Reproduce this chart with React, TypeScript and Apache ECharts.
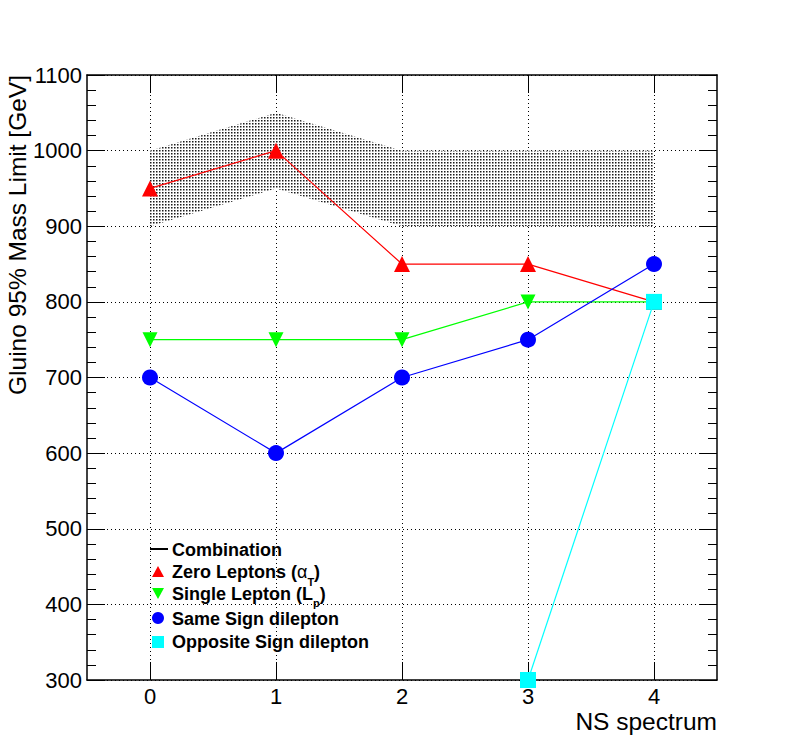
import React, { useEffect, useRef } from "react";
import * as echarts from "echarts";

const nsPoints = [0, 1, 2, 3, 4];
const xTickLabels = ["0", "1", "2", "3", "4"];
const yTicks = [300, 400, 500, 600, 700, 800, 900, 1000, 1100];
const combinationLow = [900, 950, 900, 900, 900];
const combinationHigh = [1000, 1050, 1000, 1000, 1000];
const zeroLeptons = [950, 1000, 850, 850, 800];
const singleLepton = [750, 750, 750, 800, 800];
const sameSign = [700, 600, 700, 750, 850];
const oppositeSign: (number | null)[] = [null, null, null, 300, 800];

const FONT = "'Liberation Sans', Arial, Helvetica, sans-serif";

function makeDots(): HTMLCanvasElement {
  const c = document.createElement("canvas");
  c.width = 3;
  c.height = 3;
  const ctx = c.getContext("2d")!;
  ctx.fillStyle = "#fff";
  ctx.fillRect(0, 0, 3, 3);
  ctx.fillStyle = "#1a1a1a";
  ctx.fillRect(0, 0, 1, 1);
  ctx.fillStyle = "#8a8a8a";
  ctx.fillRect(1, 0, 1, 1);
  ctx.fillRect(0, 1, 1, 1);
  ctx.fillStyle = "#c4c4c4";
  ctx.fillRect(1, 1, 1, 1);
  return c;
}

const pairs = (vals: (number | null)[]) =>
  nsPoints.map((x, i) => (vals[i] == null ? [x, null] : [x, vals[i]]));

export default function App() {
  const ref = useRef<HTMLDivElement>(null);
  useEffect(() => {
    if (!ref.current) return;
    const chart = echarts.init(ref.current, undefined, { renderer: "svg" });
    const dots = makeDots();
    const pattern = { image: dots, repeat: "repeat", imageWidth: 3, imageHeight: 3 };
    const axisLine = { show: true, onZero: false, lineStyle: { color: "#000", width: 1.5 } };
    const xBase = {
      type: "value" as const,
      min: -0.5,
      max: 4.5,
      axisLine,
      axisTick: { show: true, inside: true, length: 18, customValues: nsPoints, lineStyle: { color: "#000", width: 1 } },
    };
    const yBase = {
      type: "value" as const,
      min: yTicks[0],
      max: yTicks[yTicks.length - 1],
      interval: 100,
      axisLine,
      axisTick: { show: true, inside: true, length: 18, lineStyle: { color: "#000", width: 1 } },
      minorTick: { show: true, splitNumber: 5, length: 9, lineStyle: { color: "#000", width: 1 } },
    };
    const bold = { fontFamily: FONT, fontSize: 18, fontWeight: "bold" as const, fill: "#000" };
    chart.setOption({
      animation: false,
      backgroundColor: "#fff",
      grid: { left: 87, right: 71, top: 75, bottom: 76, containLabel: false },
      xAxis: [
        {
          ...xBase,
          position: "bottom",
          axisLabel: {
            show: true,
            customValues: nsPoints,
            formatter: (v: number) => xTickLabels[nsPoints.indexOf(Math.round(v))] ?? "",
            fontFamily: FONT,
            fontSize: 22,
            color: "#000",
            margin: 5,
          },
          splitLine: { show: true, lineStyle: { color: "#000", width: 1, type: [1, 3] } },
        },
        {
          ...xBase,
          position: "top",
          axisLabel: { show: false },
          splitLine: { show: false },
        },
      ],
      yAxis: [
        {
          ...yBase,
          position: "left",
          axisLabel: {
            show: true,
            formatter: (v: number) => String(v),
            fontFamily: FONT,
            fontSize: 22,
            color: "#000",
            margin: 5,
          },
          splitLine: { show: true, lineStyle: { color: "#000", width: 1, type: [1, 3] } },
        },
        {
          ...yBase,
          position: "right",
          axisLabel: { show: false },
          splitLine: { show: false },
        },
      ],
      series: [
        {
          name: "Combination",
          type: "custom",
          data: nsPoints.map((x, i) => [x, combinationLow[i], combinationHigh[i]]),
          encode: { x: 0, y: [1, 2] },
          silent: true,
          z: 1,
          renderItem: (params: any, api: any) => {
            if (params.dataIndex !== 0) return null;
            const top = nsPoints.map((x, i) => api.coord([x, combinationHigh[i]]));
            const bot = nsPoints.map((x, i) => api.coord([x, combinationLow[i]])).reverse();
            return {
              type: "polygon",
              shape: { points: [...top, ...bot] },
              style: { fill: pattern, stroke: "none" },
            };
          },
        },
        {
          name: "Zero Leptons",
          type: "line",
          data: pairs(zeroLeptons),
          symbol: "triangle",
          symbolSize: 16,
          itemStyle: { color: "#ff0000" },
          lineStyle: { color: "#ff0000", width: 1.2 },
          z: 3,
        },
        {
          name: "Single Lepton",
          type: "line",
          data: pairs(singleLepton),
          symbol: "path://M0,0L10,0L5,10Z",
          symbolSize: 15,
          itemStyle: { color: "#00ff00" },
          lineStyle: { color: "#00ff00", width: 1.2 },
          z: 3,
        },
        {
          name: "Same Sign dilepton",
          type: "line",
          data: pairs(sameSign),
          symbol: "circle",
          symbolSize: 16,
          itemStyle: { color: "#0000ff" },
          lineStyle: { color: "#0000ff", width: 1.2 },
          z: 3,
        },
        {
          name: "Opposite Sign dilepton",
          type: "line",
          data: pairs(oppositeSign),
          connectNulls: false,
          symbol: "rect",
          symbolSize: 16,
          itemStyle: { color: "#00ffff" },
          lineStyle: { color: "#00ffff", width: 1.2 },
          z: 4,
        },
      ],
      graphic: [
        {
          type: "text",
          x: 17,
          y: 75,
          rotation: Math.PI / 2,
          style: {
            text: "Gluino 95% Mass Limit [GeV]",
            fontFamily: FONT,
            fontSize: 24.5,
            fill: "#000",
            align: "right",
            verticalAlign: "middle",
          },
        },
        {
          type: "text",
          x: 717,
          y: 721,
          style: {
            text: "NS spectrum",
            fontFamily: FONT,
            fontSize: 24.5,
            fill: "#000",
            align: "right",
            verticalAlign: "middle",
          },
        },
        {
          type: "group",
          children: [
            { type: "line", shape: { x1: 150, y1: 549, x2: 168, y2: 549 }, style: { stroke: "#000", lineWidth: 2 } },
            { type: "text", x: 172, y: 550, style: { ...bold, text: "Combination", verticalAlign: "middle" } },
            { type: "polygon", shape: { points: [[158, 566], [164, 577], [152, 577]] }, style: { fill: "#ff0000" } },
            {
              type: "text",
              x: 172,
              y: 572,
              style: {
                text: "{b|Zero Leptons (}{g|α}{s|T}{b|)}",
                verticalAlign: "middle",
                rich: {
                  b: { ...bold },
                  g: { fontFamily: FONT, fontSize: 18, fill: "#000" },
                  s: { fontFamily: FONT, fontSize: 11, fontWeight: "bold", fill: "#000", padding: [20, 0, 0, 0] },
                },
              },
            },
            { type: "polygon", shape: { points: [[152, 588], [164, 588], [158, 599]] }, style: { fill: "#00ff00" } },
            {
              type: "text",
              x: 172,
              y: 594,
              style: {
                text: "{b|Single Lepton (L}{s|p}{b|)}",
                verticalAlign: "middle",
                rich: {
                  b: { ...bold },
                  s: { fontFamily: FONT, fontSize: 11, fontWeight: "bold", fill: "#000", padding: [18, 0, 0, 0] },
                },
              },
            },
            { type: "circle", shape: { cx: 158, cy: 618, r: 6 }, style: { fill: "#0000ff" } },
            { type: "text", x: 172, y: 619, style: { ...bold, text: "Same Sign dilepton", verticalAlign: "middle" } },
            { type: "rect", shape: { x: 152, y: 636, width: 12, height: 12 }, style: { fill: "#00ffff" } },
            { type: "text", x: 172, y: 642, style: { ...bold, text: "Opposite Sign dilepton", verticalAlign: "middle" } },
          ],
        },
      ],
    });
    return () => chart.dispose();
  }, []);
  return <div ref={ref} style={{ width: 788, height: 756, margin: -8 }} />;
}
